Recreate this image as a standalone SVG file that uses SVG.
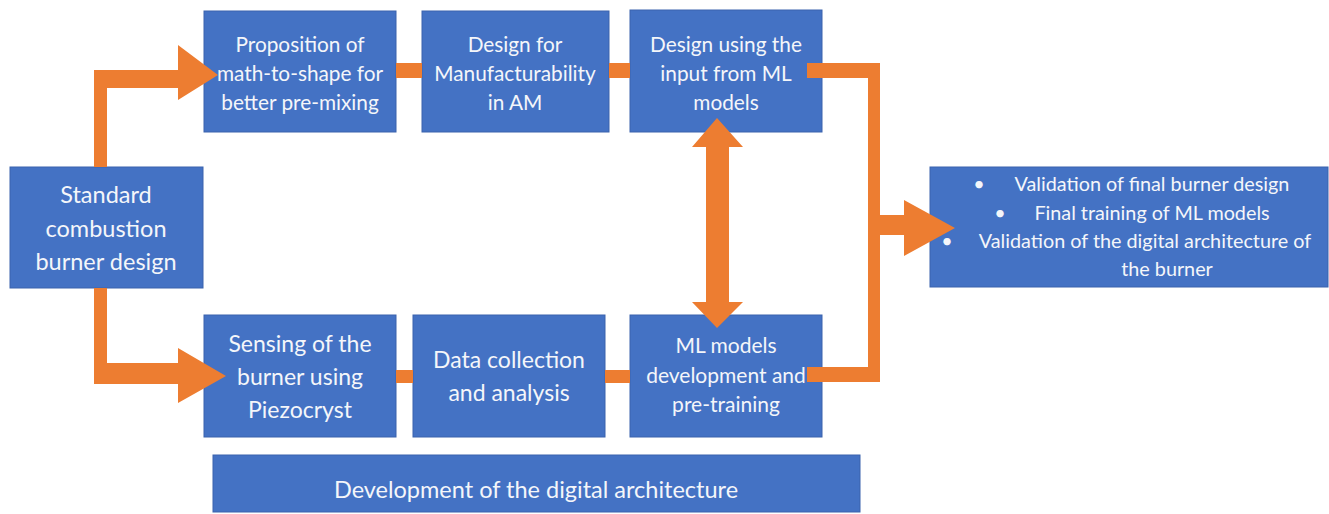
<svg xmlns="http://www.w3.org/2000/svg" width="1329" height="514" viewBox="0 0 1329 514">
<style>
.box{fill:#4472C4;stroke:#3A63AD;stroke-width:1}
.t{fill:#F4F6FA;font-family:Lato,"Open Sans",sans-serif;text-anchor:middle}
.c{fill:#ED7D31;stroke:none}
</style>
<rect width="1329" height="514" fill="#FFFFFF"/>
<g id="nodes">
<g id="standard"><rect class="box" x="10" y="167" width="193" height="121"/>
<text class="t" font-size="23.5"><tspan x="106" y="203">Standard</tspan><tspan x="106" y="237">combustion</tspan><tspan x="106" y="270">burner design</tspan></text></g>
<g id="proposition"><rect class="box" x="204" y="11" width="192" height="121"/>
<text class="t" font-size="20.8"><tspan x="300" y="52">Proposition of</tspan><tspan x="300" y="81">math-to-shape for</tspan><tspan x="300" y="110">better pre-mixing</tspan></text></g>
<g id="dfm"><rect class="box" x="422" y="11" width="187" height="121"/>
<text class="t" font-size="20.8"><tspan x="515" y="52">Design for</tspan><tspan x="515" y="81">Manufacturability</tspan><tspan x="515" y="110">in AM</tspan></text></g>
<g id="design-ml"><rect class="box" x="630" y="10" width="192" height="122"/>
<text class="t" font-size="20.8"><tspan x="726" y="52">Design using the</tspan><tspan x="726" y="81">input from ML</tspan><tspan x="726" y="110">models</tspan></text></g>
<g id="validation"><rect class="box" x="930" y="167" width="398" height="120"/>
<g class="t" font-size="19.8">
<text x="979" y="191">•</text><text x="1152" y="191">Validation of final burner design</text>
<text x="1000" y="220">•</text><text x="1152" y="220">Final training of ML models</text>
<text x="947" y="248">•</text><text x="1145" y="248">Validation of the digital architecture of</text>
<text x="1167" y="276">the burner</text></g></g>
<g id="sensing"><rect class="box" x="204" y="315" width="192" height="122"/>
<text class="t" font-size="23"><tspan x="300" y="352">Sensing of the</tspan><tspan x="300" y="385">burner using</tspan><tspan x="300" y="418">Piezocryst</tspan></text></g>
<g id="data"><rect class="box" x="413" y="315" width="192" height="122"/>
<text class="t" font-size="23"><tspan x="509" y="368">Data collection</tspan><tspan x="509" y="401">and analysis</tspan></text></g>
<g id="mlmodels"><rect class="box" x="630" y="315" width="192" height="122"/>
<text class="t" font-size="21"><tspan x="726" y="353">ML models</tspan><tspan x="726" y="383">development and</tspan><tspan x="726" y="412">pre-training</tspan></text></g>
<g id="digital"><rect class="box" x="213" y="455" width="647" height="57"/>
<text class="t" font-size="23.5" x="536" y="498">Development of the digital architecture</text></g>
</g>
<g id="connectors">
<path class="c" d="M94,167 V70 H178 V45 L218,75 L178,100 V88 H107 V167 Z"/>
<path class="c" d="M94,288 V384 H178 V403 L226,376 L178,348 V363 H107 V288 Z"/>
<rect class="c" x="396" y="63" width="26" height="15"/>
<rect class="c" x="609" y="63" width="21" height="15"/>
<rect class="c" x="396" y="370" width="17" height="13"/>
<rect class="c" x="605" y="370" width="25" height="13"/>
<path class="c" d="M807,63 H880 V382 H807 V367 H868 V78 H807 Z"/>
<path class="c" d="M874,215 H904 V200 L955,228 L904,256 V235 H874 Z"/>
<path class="c" stroke="#C8651F" stroke-width="1" d="M717,118 L743,147 H729 V302 H743 L717,328 L692,302 H706 V147 H692 Z"/>
</g>
</svg>
